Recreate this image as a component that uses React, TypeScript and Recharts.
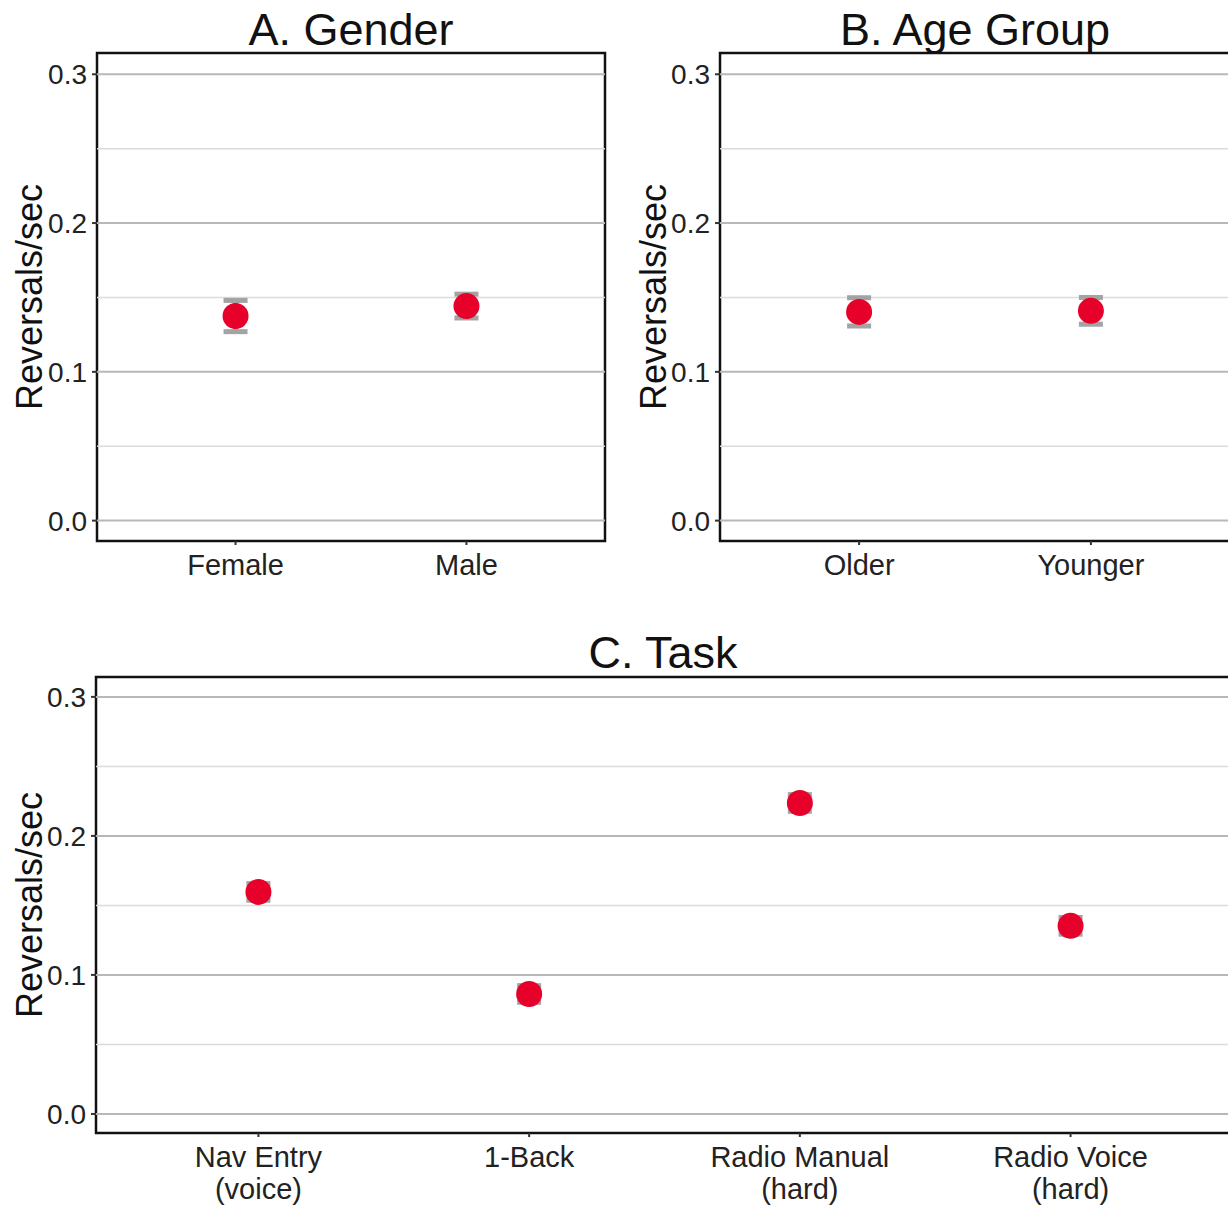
import React from 'react';
import { ScatterChart, Scatter, XAxis, YAxis, ErrorBar, ReferenceLine, ReferenceArea } from 'recharts';

// Panel A: gender
const genderCats = ['Female', 'Male'];
const genderMeans = [0.1375, 0.1442];
const genderErr = [0.0105, 0.008];

// Panel B: age group
const ageCats = ['Older', 'Younger'];
const ageMeans = [0.1403, 0.141];
const ageErr = [0.0095, 0.009];

// Panel C: task
const taskCats = ['Nav Entry\n(voice)', '1-Back', 'Radio Manual\n(hard)', 'Radio Voice\n(hard)'];
const taskMeans = [0.1597, 0.0863, 0.2237, 0.1353];
const taskErr = [0.006, 0.006, 0.006, 0.006];

const yTicks = [0, 0.1, 0.2, 0.3];
const minorGrid = [0.05, 0.15, 0.25];
const yDomain = [-0.0137, 0.3143];

const FONT = '"Liberation Sans", Arial, sans-serif';
const RED = '#e6002a';

const Dot = (p: any) => <circle cx={p.cx} cy={p.cy} r={13} fill={RED} />;

const XTick = ({ x, y, payload, cats }: any) => {
  const label: string = cats[payload.value - 1] || '';
  const lines = label.split('\n');
  return (
    <text x={x} y={y + 28} textAnchor="middle" fontSize={29} fill="#222" fontFamily={FONT}>
      {lines.map((l, i) => (
        <tspan key={i} x={x} dy={i === 0 ? 0 : 32}>{l}</tspan>
      ))}
    </text>
  );
};

interface PanelProps {
  cats: string[];
  means: number[];
  errs: number[];
  width: number;
  height: number;
  margin: { top: number; right: number; bottom: number; left: number };
  yWidth: number;
  xHeight: number;
}

const Panel: React.FC<PanelProps> = ({ cats, means, errs, width, height, margin, yWidth, xHeight }) => {
  const data = cats.map((c, i) => ({ x: i + 1, y: means[i], err: errs[i] }));
  const xDomain = [0.4, cats.length + 0.6];
  return (
    <ScatterChart width={width} height={height} margin={margin}>
      <XAxis
        type="number"
        dataKey="x"
        domain={xDomain}
        ticks={cats.map((_, i) => i + 1)}
        allowDataOverflow
        axisLine={false}
        tickSize={4}
        tickLine={{ stroke: '#333', strokeWidth: 2 }}
        height={xHeight}
        tick={<XTick cats={cats} />}
      />
      <YAxis
        type="number"
        dataKey="y"
        domain={yDomain}
        ticks={yTicks}
        allowDataOverflow
        axisLine={false}
        tickSize={5}
        tickMargin={5}
        tickLine={{ stroke: '#333', strokeWidth: 2 }}
        width={yWidth}
        tickFormatter={(v: number) => v.toFixed(1)}
        tick={{ fontSize: 28, fill: '#222', fontFamily: FONT }}
      />
      {minorGrid.map((v) => (
        <ReferenceLine key={'m' + v} y={v} stroke="#dcdcdc" strokeWidth={1.5} />
      ))}
      {yTicks.map((v) => (
        <ReferenceLine key={'M' + v} y={v} stroke="#b8b8b8" strokeWidth={2} />
      ))}
      <ReferenceArea
        x1={xDomain[0]}
        x2={xDomain[1]}
        y1={yDomain[0]}
        y2={yDomain[1]}
        fill="none"
        stroke="#111"
        strokeWidth={2.5}
        fillOpacity={0}
      />
      <Scatter data={data} shape={Dot} isAnimationActive={false}>
        <ErrorBar dataKey="err" direction="y" width={12} stroke="#a3a3a3" strokeWidth={5} />
      </Scatter>
    </ScatterChart>
  );
};

const YLabel = ({ x, y }: { x: number; y: number }) => (
  <text x={x} y={y} transform={`rotate(-90 ${x} ${y})`} textAnchor="middle" fontSize={36} fill="#111" fontFamily={FONT}>
    Reversals/sec
  </text>
);

export default function App() {
  return (
    <div style={{ position: 'absolute', left: 0, top: 0, width: 1228, height: 1207, overflow: 'hidden', background: '#fff', fontFamily: FONT }}>
      <div style={{ position: 'absolute', left: 0, top: 0 }}>
        <Panel cats={genderCats} means={genderMeans} errs={genderErr} width={620} height={600}
          margin={{ top: 53, right: 15, bottom: 0, left: 0 }} yWidth={97} xHeight={59} />
      </div>
      <div style={{ position: 'absolute', left: 623, top: 0 }}>
        <Panel cats={ageCats} means={ageMeans} errs={ageErr} width={622} height={600}
          margin={{ top: 53, right: 15, bottom: 0, left: 0 }} yWidth={97} xHeight={59} />
      </div>
      <div style={{ position: 'absolute', left: 0, top: 620 }}>
        <Panel cats={taskCats} means={taskMeans} errs={taskErr} width={1240} height={587}
          margin={{ top: 57, right: 7, bottom: 0, left: 0 }} yWidth={96} xHeight={74} />
      </div>
      <svg width={1228} height={1207} style={{ position: 'absolute', left: 0, top: 0, pointerEvents: 'none' }}>
        <text x={351} y={45} textAnchor="middle" fontSize={45} fill="#111" fontFamily={FONT}>A. Gender</text>
        <text x={975} y={45} textAnchor="middle" fontSize={45} fill="#111" fontFamily={FONT}>B. Age Group</text>
        <text x={663} y={668} textAnchor="middle" fontSize={45} fill="#111" fontFamily={FONT}>C. Task</text>
        <YLabel x={42} y={297} />
        <YLabel x={666} y={297} />
        <YLabel x={42} y={905} />
      </svg>
    </div>
  );
}
